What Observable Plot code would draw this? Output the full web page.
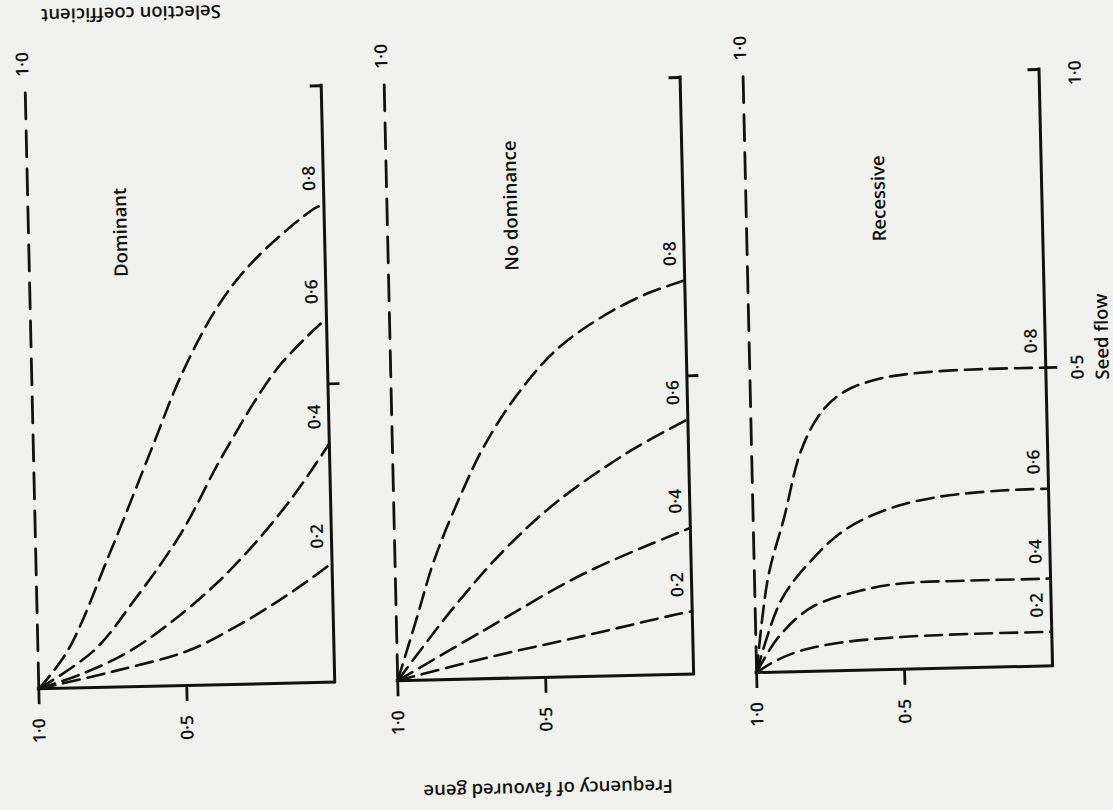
<!DOCTYPE html>
<html>
<head>
<meta charset="utf-8">
<script src="https://cdn.jsdelivr.net/npm/d3@7"></script>
<script src="https://cdn.jsdelivr.net/npm/@observablehq/plot@0.6"></script>
<style>
html, body { margin: 0; padding: 0; background: #f1f1ef; overflow: hidden; }
#chart { width: 1113px; height: 810px; }
#chart svg { overflow: visible; transform: rotate(-1.3deg); transform-origin: 50% 50%; }
</style>
</head>
<body>
<div id="chart"></div>
<script>
// ---- data ----
const panels = ["Dominant", "No dominance", "Recessive"];
const selection = [0.2, 0.4, 0.6, 0.8];
const freqTicks = [1, 0.5];
const freqTickLabels = ["1·0", "0·5"];
const lethalFlow = [0, 1];

// frequency of favoured gene (x) and seed flow (y) along each curve, s = 0.2, 0.4, 0.6, 0.8
const dominantFreq = [
  [1, 0.75, 0.494, 0.336, 0.185, 0.062, 0],
  [1, 0.85, 0.696, 0.558, 0.40, 0.262, 0.123, 0],
  [1, 0.811, 0.672, 0.508, 0.36, 0.168, 0],
  [1, 0.899, 0.746, 0.603, 0.495, 0.365, 0.24, 0.027, 0]
];
const dominantFlow = [
  [0, 0.026, 0.058, 0.095, 0.138, 0.178, 0.2],
  [0, 0.024, 0.058, 0.103, 0.166, 0.234, 0.315, 0.4],
  [0, 0.062, 0.144, 0.255, 0.385, 0.529, 0.61],
  [0, 0.063, 0.229, 0.395, 0.52, 0.635, 0.71, 0.796, 0.8]
];
const noDomFreq = [
  [1, 0.707, 0.367, 0.048, 0],
  [1, 0.705, 0.362, 0.021, 0],
  [1, 0.815, 0.63, 0.445, 0.194, 0],
  [1, 0.927, 0.868, 0.772, 0.69, 0.585, 0.447, 0.296, 0.139, 0]
];
const noDomFlow = [
  [0, 0.034, 0.068, 0.101, 0.105],
  [0, 0.081, 0.1725, 0.241, 0.245],
  [0, 0.115, 0.215, 0.295, 0.377, 0.427],
  [0, 0.11, 0.2, 0.31, 0.39, 0.468, 0.545, 0.598, 0.637, 0.66]
];
const recessiveFreq = [
  [1, 0.93, 0.848, 0.7125, 0.509, 0.283, 0.029, 0],
  [1, 0.924, 0.81, 0.641, 0.505, 0.279, 0.008, 0],
  [1, 0.912, 0.807, 0.694, 0.557, 0.387, 0.16, 0],
  [1, 0.954, 0.895, 0.833, 0.76, 0.68, 0.56, 0.4, 0.2, 0]
];
const recessiveFlow = [
  [0, 0.02, 0.035, 0.047, 0.054, 0.0565, 0.057, 0.057],
  [0, 0.058, 0.107, 0.1334, 0.1437, 0.146, 0.1465, 0.147],
  [0, 0.12, 0.1856, 0.2347, 0.2667, 0.2865, 0.2957, 0.297],
  [0, 0.159, 0.259, 0.37, 0.435, 0.468, 0.488, 0.497, 0.5, 0.5]
];

// ---- build tables ----
const fmt = v => d3.format(".1f")(v).replace(".", "·");
const curveSets = [[dominantFreq, dominantFlow], [noDomFreq, noDomFlow], [recessiveFreq, recessiveFlow]];
const curves = [];
const ends = [];
curveSets.forEach(([F, M], p) => {
  selection.forEach((s, k) => {
    F[k].forEach((f, i) => curves.push({panel: panels[p], s, freq: f, flow: M[k][i]}));
    const last = F[k].length - 1;
    ends.push({panel: panels[p], s, freq: F[k][last], flow: M[k][last]});
  });
});
const lethal = panels.flatMap(panel => lethalFlow.map(flow => ({panel, s: 1, freq: 1, flow})));
const ticks = panels.flatMap(panel => freqTicks.map((t, i) => ({panel, freq: t, label: freqTickLabels[i]})));

const ink = "#121212";
const numFont = {fontSize: 17.5, fontWeight: 600, fill: ink};
const wordFont = {fontSize: 18.5, fontWeight: 600, fill: ink};

const chart = Plot.plot({
  width: 1113,
  height: 810,
  marginLeft: 31.5,
  marginRight: 67.5,
  marginTop: 80,
  marginBottom: 133.5,
  style: {background: "transparent", fontFamily: "'Open Sans', 'DejaVu Sans', sans-serif", overflow: "visible"},
  fx: {domain: panels, axis: null, paddingInner: 0.1755, paddingOuter: 0, label: null},
  x: {domain: [1, 0], axis: null},
  y: {domain: [0, 1], axis: null},
  marks: [
    // frame: frequency axis (bottom) and seed-flow axis (right)
    Plot.ruleY(panels, {fx: d => d, y: 0, x1: 1, x2: 0, stroke: ink, strokeWidth: 3, strokeLinecap: "square"}),
    Plot.ruleX(panels, {fx: d => d, x: 0, y1: 0, y2: 1, stroke: ink, strokeWidth: 3, strokeLinecap: "square"}),
    Plot.ruleY(panels, {fx: d => d, y: 1, x1: 0, x2: 0, insetLeft: -11, stroke: ink, strokeWidth: 3}),
    Plot.ruleY(panels, {fx: d => d, y: 0.5, x1: 0, x2: 0, insetRight: -12, stroke: ink, strokeWidth: 2.8}),
    Plot.ruleX(ticks, {fx: "panel", x: "freq", y1: 0, y2: 0, insetBottom: -16, stroke: ink, strokeWidth: 2.8}),
    // curves
    Plot.line(lethal, {fx: "panel", x: "freq", y: "flow", z: "panel", stroke: ink, strokeWidth: 2.8, strokeDasharray: "26,12"}),
    Plot.line(curves, {fx: "panel", x: "freq", y: "flow", z: "s", stroke: ink, strokeWidth: 2.6, strokeDasharray: "17,8", curve: "catmull-rom"}),
    // curve labels (selection coefficient)
    Plot.text(ends, {fx: "panel", x: "freq", y: "flow", text: d => fmt(d.s), rotate: -90, dx: -14, dy: -27, ...numFont}),
    Plot.text(panels, {fx: d => d, x: 1, y: 1, text: () => "1·0", rotate: -90, dx: -2, dy: -28, ...numFont}),
    // frequency tick labels
    Plot.text(ticks, {fx: "panel", x: "freq", y: 0, text: "label", rotate: -90, dy: 42, ...numFont}),
    // seed flow labels on the last panel
    Plot.text([panels[2]], {fx: d => d, x: 0, y: 1, text: () => "1·0", rotate: -90, dx: 36, dy: 4, ...numFont}),
    Plot.text([panels[2]], {fx: d => d, x: 0, y: 0.5, text: () => "0·5", rotate: -90, dx: 32, ...numFont}),
    Plot.text([panels[2]], {fx: d => d, x: 0, y: 0.55, text: () => "Seed flow", rotate: -90, dx: 57, ...wordFont}),
    // panel titles
    Plot.text([panels[0]], {fx: d => d, x: 0.688, y: 0.762, text: d => d, rotate: -90, ...wordFont}),
    Plot.text([panels[1]], {fx: d => d, x: 0.581, y: 0.792, text: d => d, rotate: -90, ...wordFont}),
    Plot.text([panels[2]], {fx: d => d, x: 0.55, y: 0.79, text: d => d, rotate: -90, ...wordFont}),
    // axis titles
    Plot.text([panels[0]], {fx: d => d, x: 0.637, y: 1, dy: -77, text: () => "Selection coefficient", rotate: 180, ...wordFont}),
    Plot.text([panels[1]], {fx: d => d, x: 0.5, y: 0, dy: 111, text: () => "Frequency of favoured gene", rotate: 180, ...wordFont})
  ]
});
document.getElementById("chart").appendChild(chart);
</script>
</body>
</html>
